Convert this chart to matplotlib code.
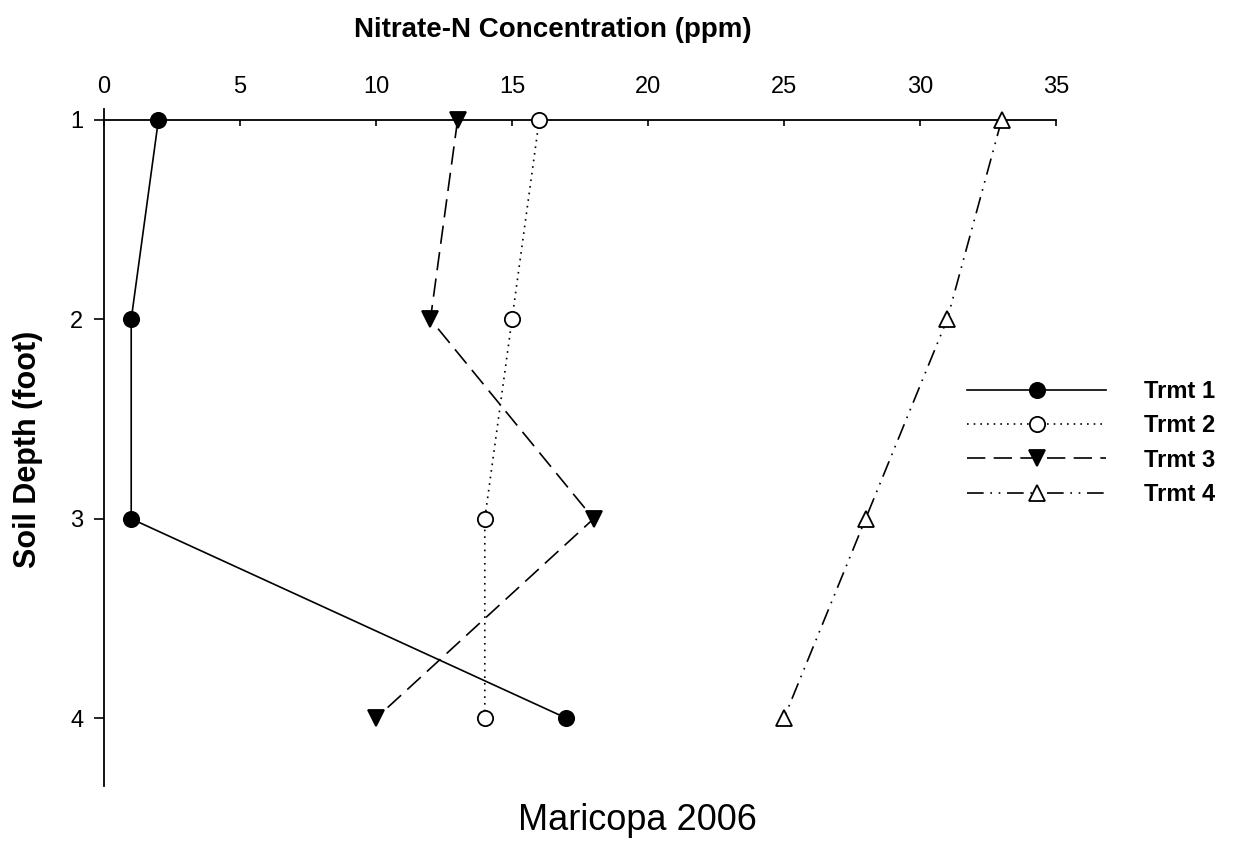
import matplotlib
matplotlib.use("Agg")
import matplotlib.pyplot as plt

plt.rcParams["font.family"] = ["Liberation Sans", "DejaVu Sans"]

# ---------------------------------------------------------------------------
# data (nitrate-N ppm by soil depth)
# ---------------------------------------------------------------------------
depth = [1, 2, 3, 4]
trmt1 = [2, 1, 1, 17]
trmt2 = [16, 15, 14, 14]
trmt3 = [13, 12, 18, 10]
trmt4 = [33, 31, 28, 25]

labels = ["Trmt 1", "Trmt 2", "Trmt 3", "Trmt 4"]
x_ticks = [0, 5, 10, 15, 20, 25, 30, 35]
y_ticks = [1, 2, 3, 4]

fig = plt.figure(figsize=(12.33, 8.46), dpi=100)
ax = fig.add_axes([104 / 1233, 1 - 786 / 846, (1056 - 104) / 1233, (786 - 109) / 846])

ms = 11
mew = 1.3
lw = 1.2
styles = [
    dict(ls="-", marker="o", mfc="black"),
    dict(ls=(0, (1, 3)), marker="o", mfc="white"),
    dict(ls=(0, (11, 5)), marker="v", mfc="black"),
    dict(ls=(0, (10, 4, 1, 4, 1, 4)), marker="^", mfc="white"),
]
for vals, lab, st in zip([trmt1, trmt2, trmt3, trmt4], labels, styles):
    ax.plot(vals, depth, color="black", lw=lw, ms=ms, mew=mew, mec="black",
            label=lab, clip_on=False, zorder=3, **st)

ax.set_xlim(0, 35)
ax.set_ylim(4.34, 0.945)

# x axis drawn as a line at depth 1, ticks pointing down
ax.spines["top"].set_position(("data", 1))
ax.spines["bottom"].set_visible(False)
ax.spines["right"].set_visible(False)
for s in ("top", "left"):
    ax.spines[s].set_linewidth(1.3)
ax.xaxis.tick_top()
ax.set_xticks(x_ticks)
ax.set_yticks(y_ticks)
ax.tick_params(axis="x", direction="in", length=4, width=1.2, pad=16, labelsize=17)
ax.tick_params(axis="y", direction="out", length=7, width=1.2, pad=8, labelsize=17)

fig.text(553 / 1233, 1 - 30 / 846, "Nitrate-N Concentration (ppm)", ha="center", va="center",
         fontsize=20, fontweight="bold")
fig.text(28 / 1233, 1 - 449 / 846, "Soil Depth (foot)",
         rotation=90, ha="center", va="center", fontsize=22, fontweight="bold")
fig.text(637 / 1233, 1 - 820 / 846, "Maricopa 2006", ha="center", va="center", fontsize=26)

leg = ax.legend(loc="upper left", bbox_to_anchor=(967 / 1233, 1 - 380 / 846),
                bbox_transform=fig.transFigure, frameon=False, borderpad=0,
                borderaxespad=0, handlelength=5.9, handletextpad=1.6,
                labelspacing=0.48, prop=dict(size=17, weight="bold"))

fig.savefig("out.png", dpi=100)
